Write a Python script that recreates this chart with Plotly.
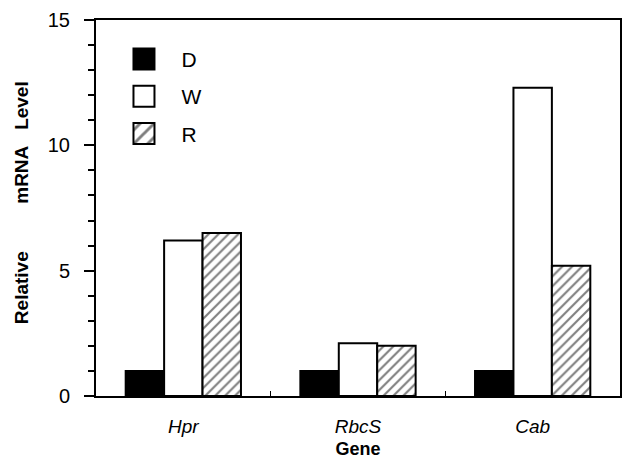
import plotly.graph_objects as go

# 유전자별 상대 mRNA 수준
genes = ['Hpr', 'RbcS', 'Cab']
gene_labels = ['<i>Hpr</i>', '<i>RbcS</i>', '<i>Cab</i>']
series_names = ['D', 'W', 'R']
values_d = [1.0, 1.0, 1.0]
values_w = [6.2, 2.1, 12.3]
values_r = [6.5, 2.0, 5.2]

FONT = 'Liberation Sans, Arial, sans-serif'
NB = '\u00a0'

fig = go.Figure()

styles = [
    dict(color='black', pattern=dict(shape='')),
    dict(color='white', pattern=dict(shape='')),
    dict(color='white', pattern=dict(shape='/', fgcolor='black', bgcolor='white',
                                     size=7, solidity=0.3, fillmode='overlay')),
]

for name, vals, st in zip(series_names, [values_d, values_w, values_r], styles):
    fig.add_trace(go.Bar(
        name=name,
        x=gene_labels,
        y=vals,
        legendgroup=name,
        marker=dict(color=st['color'], pattern=st['pattern'],
                    line=dict(color='black', width=2)),
    ))

# y축 제목 (단어 간격 넓게)
ytitle = NB * 2 + 'Relative' + NB * 9 + 'mRNA' + NB * 3 + 'Level'

fig.update_layout(
    width=627,
    height=464,
    margin=dict(l=96, r=5, t=20, b=68),
    paper_bgcolor='white',
    plot_bgcolor='white',
    barmode='group',
    bargap=0.34,
    bargroupgap=0,
    font=dict(family=FONT, color='black', size=18),
    showlegend=True,
    legend=dict(
        x=0.02, y=0.95, xanchor='left', yanchor='top',
        bgcolor='rgba(0,0,0,0)',
        font=dict(size=21, family=FONT),
        itemwidth=65,
        tracegroupgap=7,
        traceorder='grouped',
    ),
    xaxis=dict(
        range=[-0.5, 2.5],
        showline=True, linecolor='black', linewidth=2, mirror=True,
        ticks='inside', tickson='boundaries', ticklen=5, tickcolor='black',
        tickfont=dict(size=19, family=FONT),
        ticklabelstandoff=12,
        title=dict(text='<b>Gene</b>', font=dict(size=18, family=FONT), standoff=7),
        showgrid=False,
    ),
    yaxis=dict(
        range=[0, 15],
        showline=True, linecolor='black', linewidth=2, mirror=True,
        ticks='outside', ticklen=10, tickwidth=2, tickcolor='black',
        tickvals=[0, 5, 10, 15],
        minor=dict(dtick=1, ticks='outside', ticklen=6, tickwidth=2, tickcolor='black'),
        tickfont=dict(size=20, family=FONT),
        ticklabelstandoff=10,
        showgrid=False, zeroline=False,
        title=dict(text='<b>' + ytitle + '</b>', font=dict(size=19, family=FONT), standoff=14),
    ),
)

# 범례 기호를 원본처럼 크게
post = """
document.body.style.margin='0';
document.querySelectorAll('.legend .legendpoints path').forEach(function(p){
  var t = p.getAttribute('transform') || '';
  p.setAttribute('transform', t + ' scale(1.75)');
  p.style.vectorEffect='non-scaling-stroke';
});
"""

fig.write_html('out.html', config={'displayModeBar': False}, post_script=post)
